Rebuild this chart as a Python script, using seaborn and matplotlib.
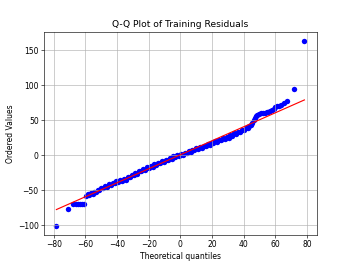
import numpy as np
import matplotlib
matplotlib.use("Agg")
import matplotlib.pyplot as plt
import seaborn as sns

# theoretical quantiles (x) and ordered residuals (y)
quantiles = [
    -78.3, -71.2, -67.6, -66.2, -64.8, -63.4, -62.0, -60.8,
    -59.4, -58.6, -57.6, -56.6, -55.5, -54.4, -53.3, -52.2, -51.1, -50.0,
    -48.8, -47.6, -46.4, -45.2, -44.0, -42.8, -41.6, -40.4, -39.2, -38.0,
    -36.8, -35.6, -34.4, -33.2, -32.0, -30.8, -29.6, -28.4, -27.2, -26.0,
    -24.8, -23.6, -22.4, -21.2, -20.0, -18.8, -17.6, -16.4, -15.2, -14.0,
    -12.8, -11.6, -10.4, -9.2, -8.0, -6.8, -5.6, -4.4, -3.2, -2.0,
    -0.8, 0.4, 1.6, 2.8, 4.0, 5.2, 6.4, 7.6, 8.8, 10.0,
    11.2, 12.4, 13.6, 14.8, 16.0, 17.2, 18.4, 19.6, 20.8, 22.0,
    23.2, 24.4, 25.6, 26.8, 28.0, 29.2, 30.4, 31.6, 32.8, 34.0,
    35.2, 36.4, 37.6, 38.8, 40.0, 41.2, 42.4, 43.6, 44.6, 45.4,
    46.2, 47.0, 47.8, 48.6, 49.6, 50.8, 52.0, 53.2, 54.4, 55.6,
    56.8, 57.8, 58.8, 59.8, 61.0, 62.4, 63.8, 65.2, 67.6, 71.6, 78.3,
]
residuals = [
    -101.0, -77.5, -70.5, -70.5, -70.5, -70.2, -70.0, -70.0,
    -58.5, -56.0, -57.0, -54.5, -55.5, -52.5, -53.0, -49.5, -50.0, -46.5,
    -47.5, -44.5, -45.0, -42.0, -43.0, -39.5, -40.5, -37.5, -38.5, -35.5,
    -37.0, -34.0, -35.5, -32.0, -32.0, -28.0, -29.0, -26.0, -26.5, -23.0,
    -23.5, -20.0, -21.0, -17.5, -18.5, -15.5, -16.5, -13.0, -14.0, -11.0,
    -12.0, -9.0, -10.0, -7.0, -7.5, -4.5, -5.5, -2.0, -3.0, 0.0,
    -1.0, 1.5, 0.5, 3.5, 2.5, 5.5, 4.5, 7.5, 6.5, 9.5,
    8.5, 11.5, 10.5, 13.5, 12.5, 15.5, 14.5, 17.5, 16.5, 19.5,
    18.5, 22.0, 21.0, 24.0, 23.0, 26.0, 25.0, 28.0, 27.5, 31.0,
    30.5, 33.5, 33.0, 36.0, 35.5, 38.5, 38.0, 41.5, 43.0, 46.0,
    49.5, 53.0, 55.5, 57.5, 58.5, 59.5, 60.0, 60.5, 61.0, 62.0,
    63.0, 64.5, 66.0, 68.0, 69.5, 70.0, 71.5, 75.0, 76.5, 94.5, 163.0,
]

# least squares fit line
fit_slope = 1.0
fit_intercept = 0.4

fit_x = np.array([quantiles[0], quantiles[-1]])
fit_y = fit_slope * fit_x + fit_intercept

fig, ax = plt.subplots(figsize=(6.4, 4.8), dpi=55)
sns.scatterplot(x=quantiles, y=residuals, color='b', s=50, linewidth=0, ax=ax)
sns.lineplot(x=fit_x, y=fit_y, color='r', linewidth=1.5, ax=ax)
ax.set_title('Q-Q Plot of Training Residuals')
ax.set_xlabel('Theoretical quantiles')
ax.set_ylabel('Ordered Values')
ax.grid(True)
plt.savefig('out.png', dpi=55)
